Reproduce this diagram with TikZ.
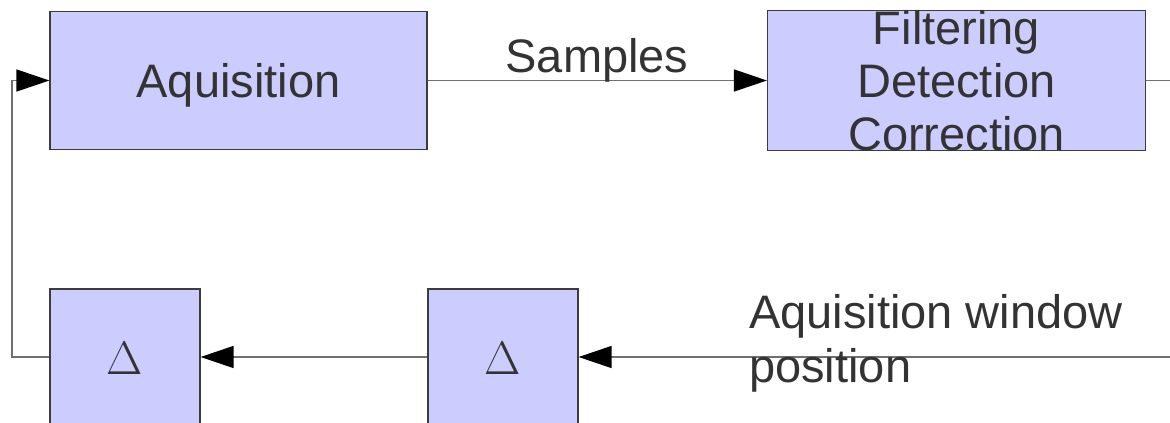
\documentclass[tikz,border=0pt]{standalone}
\usepackage{fontspec}
\setsansfont{Liberation Sans}
\usetikzlibrary{arrows.meta}
\definecolor{boxfill}{HTML}{CCCCFF}
\definecolor{boxline}{HTML}{3C3C3C}
\definecolor{wire}{HTML}{707070}
\definecolor{ink}{HTML}{333333}
\tikzset{
  block/.style={draw=boxline, line width=1.2pt, fill=boxfill, text=ink,
    inner sep=0pt, font=\sffamily\fontsize{47}{53}\selectfont, align=center},
  deltabox/.style={block, minimum width=150pt, minimum height=138pt,
    font=\rmfamily\fontsize{47}{53}\selectfont},
  label/.style={text=ink, inner sep=0pt, font=\sffamily\fontsize{47}{54}\selectfont},
  flow/.style={draw=wire, line width=1.3pt,
    -{Triangle[length=33pt,width=22pt,fill=black,color=black]}},
  wireonly/.style={draw=wire, line width=1.3pt}
}
\begin{document}
\begin{tikzpicture}[x=1pt,y=-1pt]
  \useasboundingbox (0,0) rectangle (1170,423);
  \clip (0,0) rectangle (1170,423);

  % processing blocks
  \node[block, minimum width=377pt, minimum height=138pt, text depth=0pt] (acq) at (238.5,80.5) {Aquisition};
  \node[block, minimum width=378pt, minimum height=138pt] (flt) at (956.5,80.5) {Filtering\\Detection\\Correction};
  \node[deltabox] (d1) at (125,358) {Δ};
  \node[deltabox] (d2) at (503,358) {Δ};

  % free ends and corners of the loop
  \coordinate (outtop) at (1172,80.5);
  \coordinate (inbot) at (1172,357);
  \coordinate (loopx) at (12,357);

  % connectors
  \draw[flow] (acq.east) -- (flt.west);
  \draw[wireonly] (flt.east) -- (outtop);
  \draw[flow] (inbot) -- (d2.east |- inbot);
  \draw[flow] (d2.west |- inbot) -- (d1.east |- inbot);
  \draw[flow] (d1.west |- loopx) -- (loopx) |- (acq.west);

  % labels
  \node[label, anchor=base] (samples) at (597,72) {Samples};
  \node[label, anchor=base west, align=left] (winpos) at (749,382) {Aquisition window\\position};
\end{tikzpicture}
\end{document}
